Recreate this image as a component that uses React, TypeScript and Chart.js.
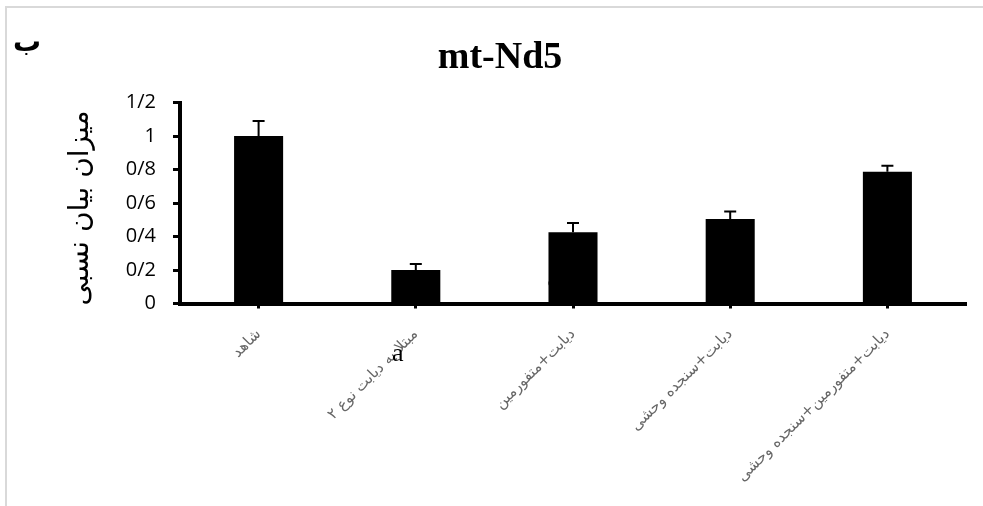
import React, { useEffect, useRef } from 'react';
import { Chart, registerables } from 'chart.js';

Chart.register(...registerables);

const categories = [
  'شاهد',
  'مبتلا به دیابت نوع ۲',
  'دیابت+متفورمین',
  'دیابت+سنجده وحشی',
  'دیابت+متفورمین+سنجده وحشی',
];
const values = [1.0, 0.2, 0.425, 0.505, 0.787];
const errors = [0.09, 0.036, 0.056, 0.044, 0.036];
const yTickLabels = ['0', '0/2', '0/4', '0/6', '0/8', '1', '1/2'];
const chartTitle = 'mt-Nd5';
const panelLetter = 'ب';
const yAxisTitle = 'میزان بیان نسبی';
const sigLetterFront = 'a';
const sigLetterBehind = 'a';

const errorBarPlugin = {
  id: 'errorBars',
  afterDatasetsDraw(chart: any) {
    const meta = chart.getDatasetMeta(0);
    const y = chart.scales.y;
    const ctx = chart.ctx;
    ctx.save();
    ctx.strokeStyle = '#000';
    ctx.lineWidth = 2;
    meta.data.forEach((bar: any, i: number) => {
      const top = y.getPixelForValue(values[i]);
      const cap = y.getPixelForValue(values[i] + errors[i]);
      ctx.beginPath();
      ctx.moveTo(bar.x, top);
      ctx.lineTo(bar.x, cap);
      ctx.moveTo(bar.x - 6, cap);
      ctx.lineTo(bar.x + 6, cap);
      ctx.stroke();
    });
    ctx.restore();
  },
};

const annotationPlugin = {
  id: 'annotations',
  beforeDatasetsDraw(chart: any) {
    const ctx = chart.ctx;
    const x = chart.scales.x;
    ctx.save();
    ctx.fillStyle = '#595959';
    ctx.font = '20px "Liberation Serif", serif';
    ctx.textAlign = 'center';
    ctx.textBaseline = 'middle';
    ctx.fillText(sigLetterBehind, x.getPixelForValue(2) - 21, 281);
    ctx.restore();
  },
  afterDraw(chart: any) {
    const ctx = chart.ctx;
    const x = chart.scales.x;
    const area = chart.chartArea;
    ctx.save();
    ctx.fillStyle = '#000';
    ctx.textAlign = 'center';
    ctx.textBaseline = 'middle';
    ctx.font = 'bold 28px "DejaVu Sans", sans-serif';
    ctx.fillText(panelLetter, 27, 44);
    ctx.font = '26px "Liberation Serif", serif';
    ctx.fillText(sigLetterFront, x.getPixelForValue(1) - 18, 354);
    // vertical axis title
    ctx.save();
    ctx.translate(81, (area.top + area.bottom) / 2 + 5);
    ctx.rotate(-Math.PI / 2);
    ctx.font = '28px "DejaVu Sans", sans-serif';
    ctx.fillText(yAxisTitle, 0, 0);
    ctx.restore();
    ctx.restore();
  },
};

export default function App() {
  const ref = useRef<HTMLCanvasElement | null>(null);

  useEffect(() => {
    if (!ref.current) return;
    const chart = new Chart(ref.current, {
      type: 'bar',
      data: {
        labels: categories,
        datasets: [
          {
            data: values,
            backgroundColor: '#000',
            borderWidth: 0,
            barPercentage: 0.312,
            categoryPercentage: 1,
          },
        ],
      },
      options: {
        responsive: false,
        animation: false,
        layout: { padding: { left: 34, right: 17, top: 0, bottom: 0 } },
        plugins: {
          legend: { display: false },
          tooltip: { enabled: false },
          title: {
            display: true,
            text: chartTitle,
            color: '#000',
            font: { family: '"Liberation Serif", "Times New Roman", serif', size: 38, weight: 'bold', lineHeight: 1.2 },
            padding: { top: 35, bottom: 22 },
          },
        },
        scales: {
          x: {
            offset: true,
            grid: {
              display: true,
              drawOnChartArea: false,
              drawTicks: true,
              tickLength: 5,
              tickWidth: 3,
              tickColor: '#000',
              offset: false,
            },
            border: { display: true, color: '#000', width: 4 },
            ticks: {
              autoSkip: false,
              minRotation: 45,
              maxRotation: 45,
              color: '#666',
              font: { family: '"DejaVu Sans", sans-serif', size: 15 },
              padding: 17,
            },
            afterFit(scale: any) {
              scale.height = 202.5;
            },
          },
          y: {
            min: 0,
            max: 1.2,
            ticks: {
              stepSize: 0.2,
              callback: (_v: any, i: number) => yTickLabels[i],
              color: '#000',
              font: { family: '"Open Sans", sans-serif', size: 20 },
              padding: 17,
            },
            grid: {
              drawOnChartArea: false,
              drawTicks: true,
              tickLength: 7,
              tickWidth: 3,
              tickColor: '#000',
            },
            border: { display: true, color: '#000', width: 4 },
            title: { display: false },
            afterFit(scale: any) {
              scale.width = 146;
            },
          },
        },
      } as any,
      plugins: [errorBarPlugin, annotationPlugin],
    });
    return () => chart.destroy();
  }, []);

  return (
    <div style={{ position: 'fixed', left: 0, top: 0, width: 983, height: 506, background: '#fff', overflow: 'hidden' }}>
      <div
        style={{
          position: 'absolute',
          left: 5,
          top: 6,
          width: 1100,
          height: 700,
          borderLeft: '2px solid #d9d9d9',
          borderTop: '2px solid #d9d9d9',
        }}
      />
      <canvas ref={ref} width={983} height={506} style={{ position: 'absolute', left: 0, top: 0 }} />
    </div>
  );
}
